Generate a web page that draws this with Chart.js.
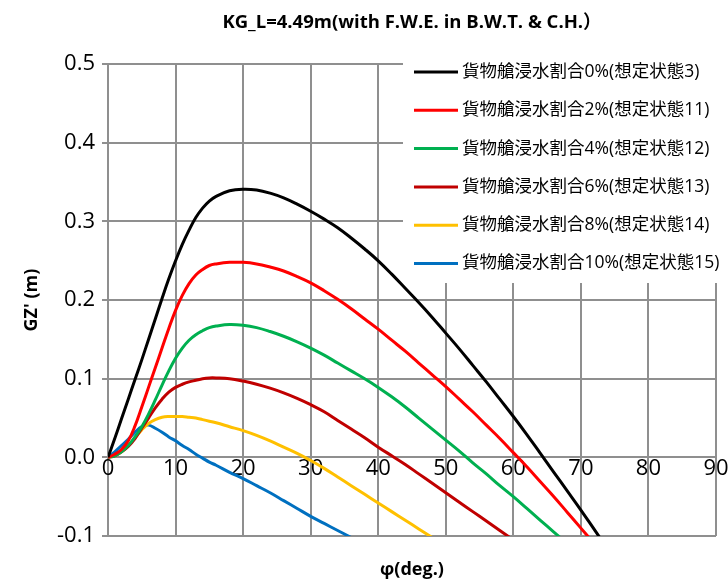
<!DOCTYPE html>
<html>
<head>
<meta charset="utf-8">
<script src="https://cdn.jsdelivr.net/npm/chart.js@4.4.1/dist/chart.umd.min.js"></script>
<style>
  html, body { margin: 0; padding: 0; background: #fff; }
</style>
</head>
<body>
<canvas id="gzChart" width="728" height="585"></canvas>
<script>
// heel angles (deg)
const angles = [0, 1, 2, 3, 4, 5, 6, 7, 8, 9, 10, 11, 12, 13, 14, 15, 16,
  18, 20, 22, 24, 26, 28, 30, 32, 34, 36, 38, 40, 42, 44, 46, 48, 50, 52, 54, 56, 58, 60, 62, 64, 66, 68, 70, 72, 74];

// GZ' (m) for each flooding ratio
const gz0 = [0, 0.024, 0.049, 0.074, 0.099, 0.124, 0.150, 0.176, 0.202, 0.227, 0.250, 0.271, 0.289, 0.305, 0.317, 0.326, 0.332,
  0.339, 0.341, 0.340, 0.336, 0.330, 0.322, 0.313, 0.303, 0.292, 0.279, 0.265, 0.250, 0.233, 0.215, 0.197, 0.178, 0.158, 0.138, 0.117, 0.096, 0.074, 0.052, 0.029, 0.005, -0.019, -0.043, -0.067, -0.092, -0.117];
const gz2 = [0, 0.004, 0.010, 0.021, 0.040, 0.064, 0.089, 0.114, 0.139, 0.164, 0.187, 0.206, 0.221, 0.232, 0.239, 0.244, 0.246,
  0.248, 0.248, 0.246, 0.242, 0.237, 0.230, 0.222, 0.212, 0.201, 0.189, 0.176, 0.163, 0.149, 0.135, 0.120, 0.105, 0.090, 0.074, 0.058, 0.041, 0.024, 0.006, -0.012, -0.031, -0.050, -0.070, -0.090, -0.110, -0.130];
const gz4 = [0, 0.002, 0.007, 0.015, 0.026, 0.039, 0.055, 0.073, 0.092, 0.110, 0.126, 0.139, 0.149, 0.156, 0.161, 0.165, 0.167,
  0.169, 0.168, 0.165, 0.160, 0.154, 0.147, 0.139, 0.130, 0.120, 0.110, 0.100, 0.089, 0.077, 0.064, 0.050, 0.036, 0.022, 0.008, -0.007, -0.021, -0.036, -0.050, -0.065, -0.080, -0.095, -0.110, -0.125, null, null];
const gz6 = [0, 0.002, 0.007, 0.014, 0.024, 0.037, 0.050, 0.063, 0.074, 0.083, 0.089, 0.093, 0.096, 0.098, 0.100, 0.101, 0.101,
  0.100, 0.097, 0.093, 0.088, 0.082, 0.075, 0.067, 0.058, 0.047, 0.036, 0.025, 0.013, 0.002, -0.009, -0.021, -0.033, -0.045, -0.057, -0.069, -0.081, -0.093, -0.105, -0.117, null, null, null, null, null, null];
const gz8 = [0, 0.002, 0.007, 0.015, 0.025, 0.035, 0.043, 0.048, 0.051, 0.052, 0.052, 0.052, 0.051, 0.050, 0.048, 0.046, 0.044,
  0.039, 0.034, 0.028, 0.021, 0.013, 0.005, -0.004, -0.014, -0.025, -0.036, -0.047, -0.058, -0.069, -0.080, -0.091, -0.102, -0.113, null, null, null, null, null, null, null, null, null, null, null, null];
const gz10 = [0, 0.007, 0.015, 0.023, 0.032, 0.039, 0.041, 0.037, 0.032, 0.026, 0.021, 0.015, 0.010, 0.004, -0.001, -0.006, -0.010,
  -0.019, -0.027, -0.036, -0.045, -0.055, -0.065, -0.075, -0.084, -0.093, -0.102, -0.111, null, null, null, null, null, null, null, null, null, null, null, null, null, null, null, null, null, null];

const seriesLabels = [
  "貨物艙浸水割合0%(想定状態3)",
  "貨物艙浸水割合2%(想定状態11)",
  "貨物艙浸水割合4%(想定状態12)",
  "貨物艙浸水割合6%(想定状態13)",
  "貨物艙浸水割合8%(想定状態14)",
  "貨物艙浸水割合10%(想定状態15)"
];
const seriesValues = [gz0, gz2, gz4, gz6, gz8, gz10];
const seriesColors = ["#000000", "#FF0000", "#00B050", "#C00000", "#FFC000", "#0070C0"];

const FONT = '"Open Sans", "Noto Sans CJK JP", sans-serif';
const GRID = "#8f8f8f";

// x tick labels sit just under the 0.0 line (axis crosses at 0)
const xLabelsAtZero = {
  id: "xLabelsAtZero",
  beforeDatasetsDraw(chart) {
    const { ctx } = chart;
    const xs = chart.scales.x;
    const y0 = chart.scales.y.getPixelForValue(0);
    ctx.save();
    ctx.font = "22px " + FONT;
    ctx.fillStyle = "#000";
    ctx.textAlign = "center";
    ctx.textBaseline = "middle";
    xs.ticks.forEach(t => ctx.fillText(String(t.value), xs.getPixelForValue(t.value), y0 + 11));
    ctx.restore();
  }
};

// legend box drawn over the upper right of the plot
const legendBox = {
  id: "legendBox",
  afterDraw(chart) {
    const { ctx } = chart;
    ctx.save();
    ctx.fillStyle = "#fff";
    ctx.fillRect(403, 50, 325, 233);
    chart.data.datasets.forEach((ds, i) => {
      const y = 72 + i * 38.3;
      ctx.strokeStyle = ds.borderColor;
      ctx.lineWidth = 3;
      ctx.beginPath();
      ctx.moveTo(414, y);
      ctx.lineTo(458, y);
      ctx.stroke();
      ctx.fillStyle = "#000";
      ctx.font = "17.5px " + FONT;
      ctx.textBaseline = "middle";
      ctx.fillText(ds.label, 462, y);
    });
    ctx.restore();
  }
};

new Chart(document.getElementById("gzChart"), {
  type: "line",
  data: {
    datasets: seriesLabels.map((label, i) => ({
      label,
      data: angles.map((a, j) => ({ x: a, y: seriesValues[i][j] })).filter(p => p.y !== null),
      borderColor: seriesColors[i],
      backgroundColor: seriesColors[i],
      borderWidth: 3,
      pointRadius: 0,
      fill: false,
      tension: 0.4
    }))
  },
  options: {
    responsive: false,
    animation: false,
    layout: { padding: { left: 0, right: 12, top: 0, bottom: 0 } },
    plugins: {
      legend: { display: false },
      tooltip: { enabled: false },
      title: {
        display: true,
        text: "KG_L=4.49m(with F.W.E. in B.W.T. & C.H.）",
        fullSize: false,
        color: "#000",
        font: { family: FONT, size: 18.5, weight: "bold" },
        padding: { top: 12, bottom: 30 }
      }
    },
    scales: {
      x: {
        type: "linear",
        min: 0,
        max: 90,
        ticks: { stepSize: 10, display: false },
        grid: { color: GRID, lineWidth: 2, drawTicks: false },
        border: { display: false },
        title: {
          display: true,
          text: "φ(deg.)",
          color: "#000",
          font: { family: FONT, size: 18, weight: "bold" },
          padding: { top: 0, bottom: 4 }
        },
        afterFit: s => { s.height = 49; }
      },
      y: {
        min: -0.1,
        max: 0.5,
        ticks: {
          stepSize: 0.1,
          color: "#000",
          padding: 7,
          font: { family: FONT, size: 22 },
          callback: v => (Math.abs(v) < 1e-9 ? 0 : v).toFixed(1)
        },
        grid: { color: GRID, lineWidth: 2, tickLength: 6 },
        border: { color: GRID, width: 2 },
        title: {
          display: true,
          text: "GZ' (m)",
          color: "#000",
          font: { family: FONT, size: 18, weight: "bold" },
          padding: { top: 21, bottom: 0 }
        },
        afterFit: s => { s.width = 108; }
      }
    }
  },
  plugins: [xLabelsAtZero, legendBox]
});
</script>
</body>
</html>
